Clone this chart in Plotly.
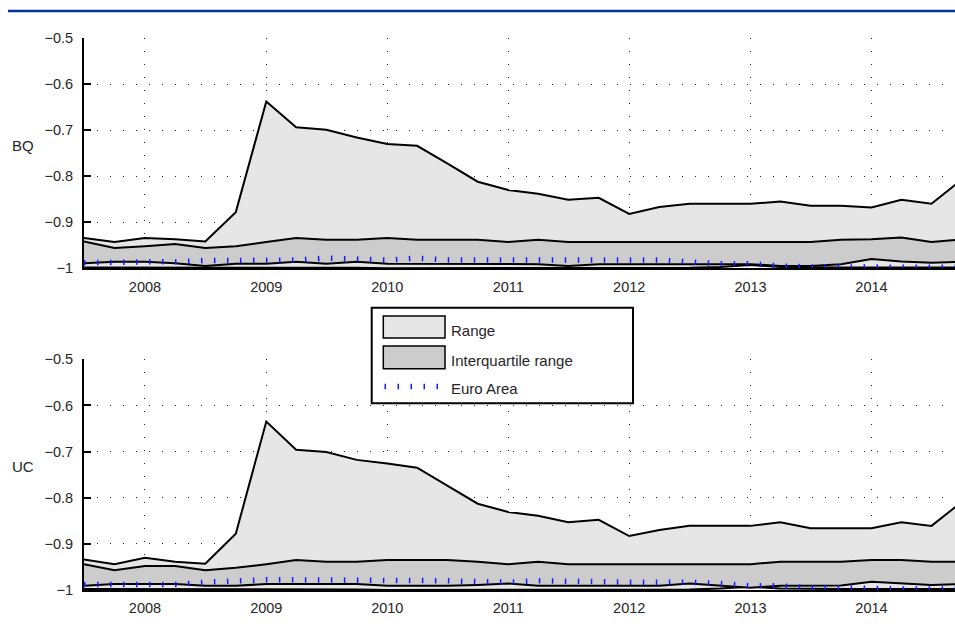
import plotly.graph_objects as go

# ---- data -------------------------------------------------------------
quarters = ["2007-07-01", "2007-10-01", "2008-01-01", "2008-04-01", "2008-07-01", "2008-10-01",
            "2009-01-01", "2009-04-01", "2009-07-01", "2009-10-01", "2010-01-01", "2010-04-01",
            "2010-07-01", "2010-10-01", "2011-01-01", "2011-04-01", "2011-07-01", "2011-10-01",
            "2012-01-01", "2012-04-01", "2012-07-01", "2012-10-01", "2013-01-01", "2013-04-01",
            "2013-07-01", "2013-10-01", "2014-01-01", "2014-04-01", "2014-07-01", "2014-10-01"]

bq_max = [-0.934, -0.943, -0.934, -0.937, -0.942, -0.878, -0.638, -0.694, -0.699, -0.716,
          -0.730, -0.734, -0.772, -0.812, -0.830, -0.838, -0.851, -0.847, -0.882, -0.867,
          -0.860, -0.860, -0.860, -0.855, -0.864, -0.864, -0.868, -0.851, -0.860, -0.807]
bq_q75 = [-0.942, -0.956, -0.952, -0.947, -0.956, -0.952, -0.943, -0.934, -0.938, -0.938,
          -0.934, -0.938, -0.938, -0.938, -0.943, -0.938, -0.943, -0.943, -0.943, -0.943,
          -0.943, -0.943, -0.943, -0.943, -0.943, -0.938, -0.937, -0.933, -0.943, -0.937]
bq_q25 = [-0.989, -0.986, -0.986, -0.989, -0.995, -0.990, -0.990, -0.986, -0.990, -0.986,
          -0.990, -0.990, -0.990, -0.990, -0.991, -0.991, -0.995, -0.991, -0.991, -0.991,
          -0.991, -0.991, -0.991, -0.995, -0.995, -0.991, -0.980, -0.985, -0.988, -0.986]
bq_min = [-0.998, -0.998, -0.998, -0.998, -0.998, -0.999, -0.999, -0.999, -0.999, -0.999,
          -1.000, -1.000, -1.000, -1.000, -0.999, -0.999, -1.000, -1.000, -1.000, -1.000,
          -0.999, -0.997, -0.993, -0.997, -0.998, -0.998, -0.998, -0.998, -0.998, -0.998]
bq_euro = [-0.988, -0.986, -0.986, -0.986, -0.983, -0.983, -0.982, -0.982, -0.978, -0.980,
           -0.982, -0.978, -0.982, -0.982, -0.982, -0.982, -0.982, -0.982, -0.982, -0.982,
           -0.986, -0.990, -0.990, -0.995, -0.997, -0.997, -0.999, -0.999, -0.999, -0.998]

uc_max = [-0.934, -0.944, -0.930, -0.939, -0.943, -0.878, -0.635, -0.696, -0.701, -0.718,
          -0.726, -0.735, -0.774, -0.813, -0.831, -0.839, -0.853, -0.848, -0.883, -0.870,
          -0.861, -0.861, -0.861, -0.853, -0.866, -0.866, -0.866, -0.853, -0.861, -0.809]
uc_q75 = [-0.944, -0.957, -0.948, -0.948, -0.957, -0.952, -0.944, -0.935, -0.939, -0.939,
          -0.935, -0.935, -0.935, -0.939, -0.944, -0.939, -0.944, -0.944, -0.944, -0.944,
          -0.944, -0.944, -0.944, -0.939, -0.939, -0.939, -0.935, -0.935, -0.939, -0.939]
uc_q25 = [-0.991, -0.987, -0.987, -0.987, -0.991, -0.991, -0.987, -0.987, -0.987, -0.987,
          -0.991, -0.991, -0.991, -0.989, -0.986, -0.991, -0.991, -0.991, -0.991, -0.991,
          -0.986, -0.991, -0.995, -0.991, -0.991, -0.990, -0.982, -0.986, -0.989, -0.987]
uc_min = [-0.998, -0.998, -0.998, -0.998, -0.998, -0.999, -0.999, -0.999, -0.999, -0.999,
          -1.000, -1.000, -1.000, -1.000, -0.999, -0.999, -1.000, -1.000, -1.000, -1.000,
          -0.999, -0.997, -0.993, -0.997, -0.998, -0.998, -0.998, -0.998, -0.998, -0.998]
uc_euro = [-0.988, -0.988, -0.988, -0.988, -0.983, -0.980, -0.978, -0.978, -0.978, -0.978,
           -0.978, -0.978, -0.980, -0.982, -0.983, -0.980, -0.982, -0.982, -0.983, -0.982,
           -0.983, -0.986, -0.991, -0.991, -0.995, -0.995, -0.998, -0.998, -0.998, -0.998]

panel_labels = ["BQ", "UC"]
legend_labels = ["Range", "Interquartile range", "Euro Area"]
y_ticks = [-1, -0.9, -0.8, -0.7, -0.6, -0.5]
y_tick_text = ["\u22121", "\u22120.9", "\u22120.8", "\u22120.7", "\u22120.6", "\u22120.5"]
x_ticks = ["2008-01-01", "2009-01-01", "2010-01-01", "2011-01-01", "2012-01-01", "2013-01-01", "2014-01-01"]
x_tick_text = ["2008", "2009", "2010", "2011", "2012", "2013", "2014"]

# ---- style --------------------------------------------------------------
RANGE_FILL = "#e6e6e6"
IQR_FILL = "#cccccc"
EURO_BLUE = "#1a1aff"
FONT = "Liberation Sans, Arial, sans-serif"
TXT = "#262626"
W, H = 955, 628
ML, MR, MT, MB = 84, 0, 38, 38
PW, PH = W - ML - MR, H - MT - MB


def px_x(p):
    return (p - ML) / PW


def px_y(p):
    return (H - MB - p) / PH


fig = go.Figure()

panels = [
    (bq_min, bq_max, bq_q25, bq_q75, bq_euro, "x", "y"),
    (uc_min, uc_max, uc_q25, uc_q75, uc_euro, "x2", "y2"),
]
for mn, mx, q25, q75, eu, xa, ya in panels:
    line = dict(color="black", width=2)
    fig.add_trace(go.Scatter(x=quarters, y=mn, mode="lines", line=line,
                             xaxis=xa, yaxis=ya, showlegend=False, hoverinfo="skip"))
    fig.add_trace(go.Scatter(x=quarters, y=mx, mode="lines", line=line, fill="tonexty",
                             fillcolor=RANGE_FILL, xaxis=xa, yaxis=ya, showlegend=False))
    fig.add_trace(go.Scatter(x=quarters, y=q25, mode="lines", line=line,
                             xaxis=xa, yaxis=ya, showlegend=False, hoverinfo="skip"))
    fig.add_trace(go.Scatter(x=quarters, y=q75, mode="lines", line=line, fill="tonexty",
                             fillcolor=IQR_FILL, xaxis=xa, yaxis=ya, showlegend=False))
    fig.add_trace(go.Scatter(x=quarters, y=eu, mode="lines",
                             line=dict(color=EURO_BLUE, width=5.5, dash="1.5px,11.5px"),
                             xaxis=xa, yaxis=ya, showlegend=False))

x_range = ["2007-07-01", "2014-09-10"]
xcommon = dict(type="date", range=x_range, tickvals=x_ticks, ticktext=x_tick_text,
               showgrid=True, gridcolor="#222222", gridwidth=1, griddash="1px,12px",
               showline=True, linecolor="black", linewidth=2, ticks="", zeroline=False,
               ticklabelstandoff=4, tickfont=dict(family=FONT, size=14.5, color=TXT))
ycommon = dict(range=[-1, -0.5], tickvals=y_ticks, ticktext=y_tick_text,
               showgrid=True, gridcolor="#222222", gridwidth=1, griddash="1px,12px",
               showline=True, linecolor="black", linewidth=2, ticks="inside",
               ticklen=7, tickwidth=2, tickcolor="black", zeroline=False,
               ticklabelstandoff=6, tickfont=dict(family=FONT, size=14.5, color=TXT))

top_dom = [px_y(268.3), 1.0]
bot_dom = [0.0, px_y(359.3)]

fig.update_layout(
    width=W, height=H, autosize=False,
    margin=dict(l=ML, r=MR, t=MT, b=MB),
    paper_bgcolor="white", plot_bgcolor="white",
    showlegend=False,
    xaxis=dict(xcommon, anchor="y", domain=[0, 1]),
    yaxis=dict(ycommon, anchor="x", domain=top_dom),
    xaxis2=dict(xcommon, anchor="y2", domain=[0, 1]),
    yaxis2=dict(ycommon, anchor="x2", domain=bot_dom),
)

shapes = []
annotations = []

# top blue rule
shapes.append(dict(type="line", xref="paper", yref="paper", x0=px_x(8), x1=1.0,
                   y0=px_y(11), y1=px_y(11), line=dict(color="#003399", width=2.5)))

# panel labels
for lab, yc in zip(panel_labels, [145.3, 466.5]):
    annotations.append(dict(text=lab, xref="paper", yref="paper", x=px_x(10), y=px_y(yc),
                            xanchor="left", yanchor="middle", showarrow=False,
                            font=dict(family=FONT, size=15, color=TXT)))

# legend box
shapes.append(dict(type="rect", xref="paper", yref="paper", layer="above",
                   x0=px_x(371.7), x1=px_x(633), y0=px_y(403.3), y1=px_y(307.7),
                   fillcolor="white", line=dict(color="black", width=2)))
shapes.append(dict(type="rect", xref="paper", yref="paper", layer="above",
                   x0=px_x(383.3), x1=px_x(445), y0=px_y(338), y1=px_y(316),
                   fillcolor=RANGE_FILL, line=dict(color="black", width=1.5)))
shapes.append(dict(type="rect", xref="paper", yref="paper", layer="above",
                   x0=px_x(383.3), x1=px_x(445), y0=px_y(368.7), y1=px_y(346),
                   fillcolor=IQR_FILL, line=dict(color="black", width=1.5)))
shapes.append(dict(type="line", xref="paper", yref="paper", layer="above",
                   x0=px_x(384.5), x1=px_x(446), y0=px_y(386.5), y1=px_y(386.5),
                   line=dict(color=EURO_BLUE, width=5.5, dash="1.5px,11.5px")))
for lab, yc in zip(legend_labels, [330.5, 360.5, 388.3]):
    annotations.append(dict(text=lab, xref="paper", yref="paper", x=px_x(449), y=px_y(yc),
                            xanchor="left", yanchor="middle", showarrow=False,
                            font=dict(family=FONT, size=15, color=TXT)))

fig.update_layout(shapes=shapes, annotations=annotations)

# place the figure flush with the page corner at its full size
post = ("document.body.style.margin='0';"
        "document.documentElement.style.overflow='hidden';"
        "var gd=document.getElementById('{plot_id}');"
        "gd.style.width='%dpx';gd.style.height='%dpx';"
        "Plotly.relayout(gd,{width:%d,height:%d});" % (W, H, W, H))
fig.write_html("out.html", post_script=post,
               config={"displayModeBar": False, "responsive": False})
